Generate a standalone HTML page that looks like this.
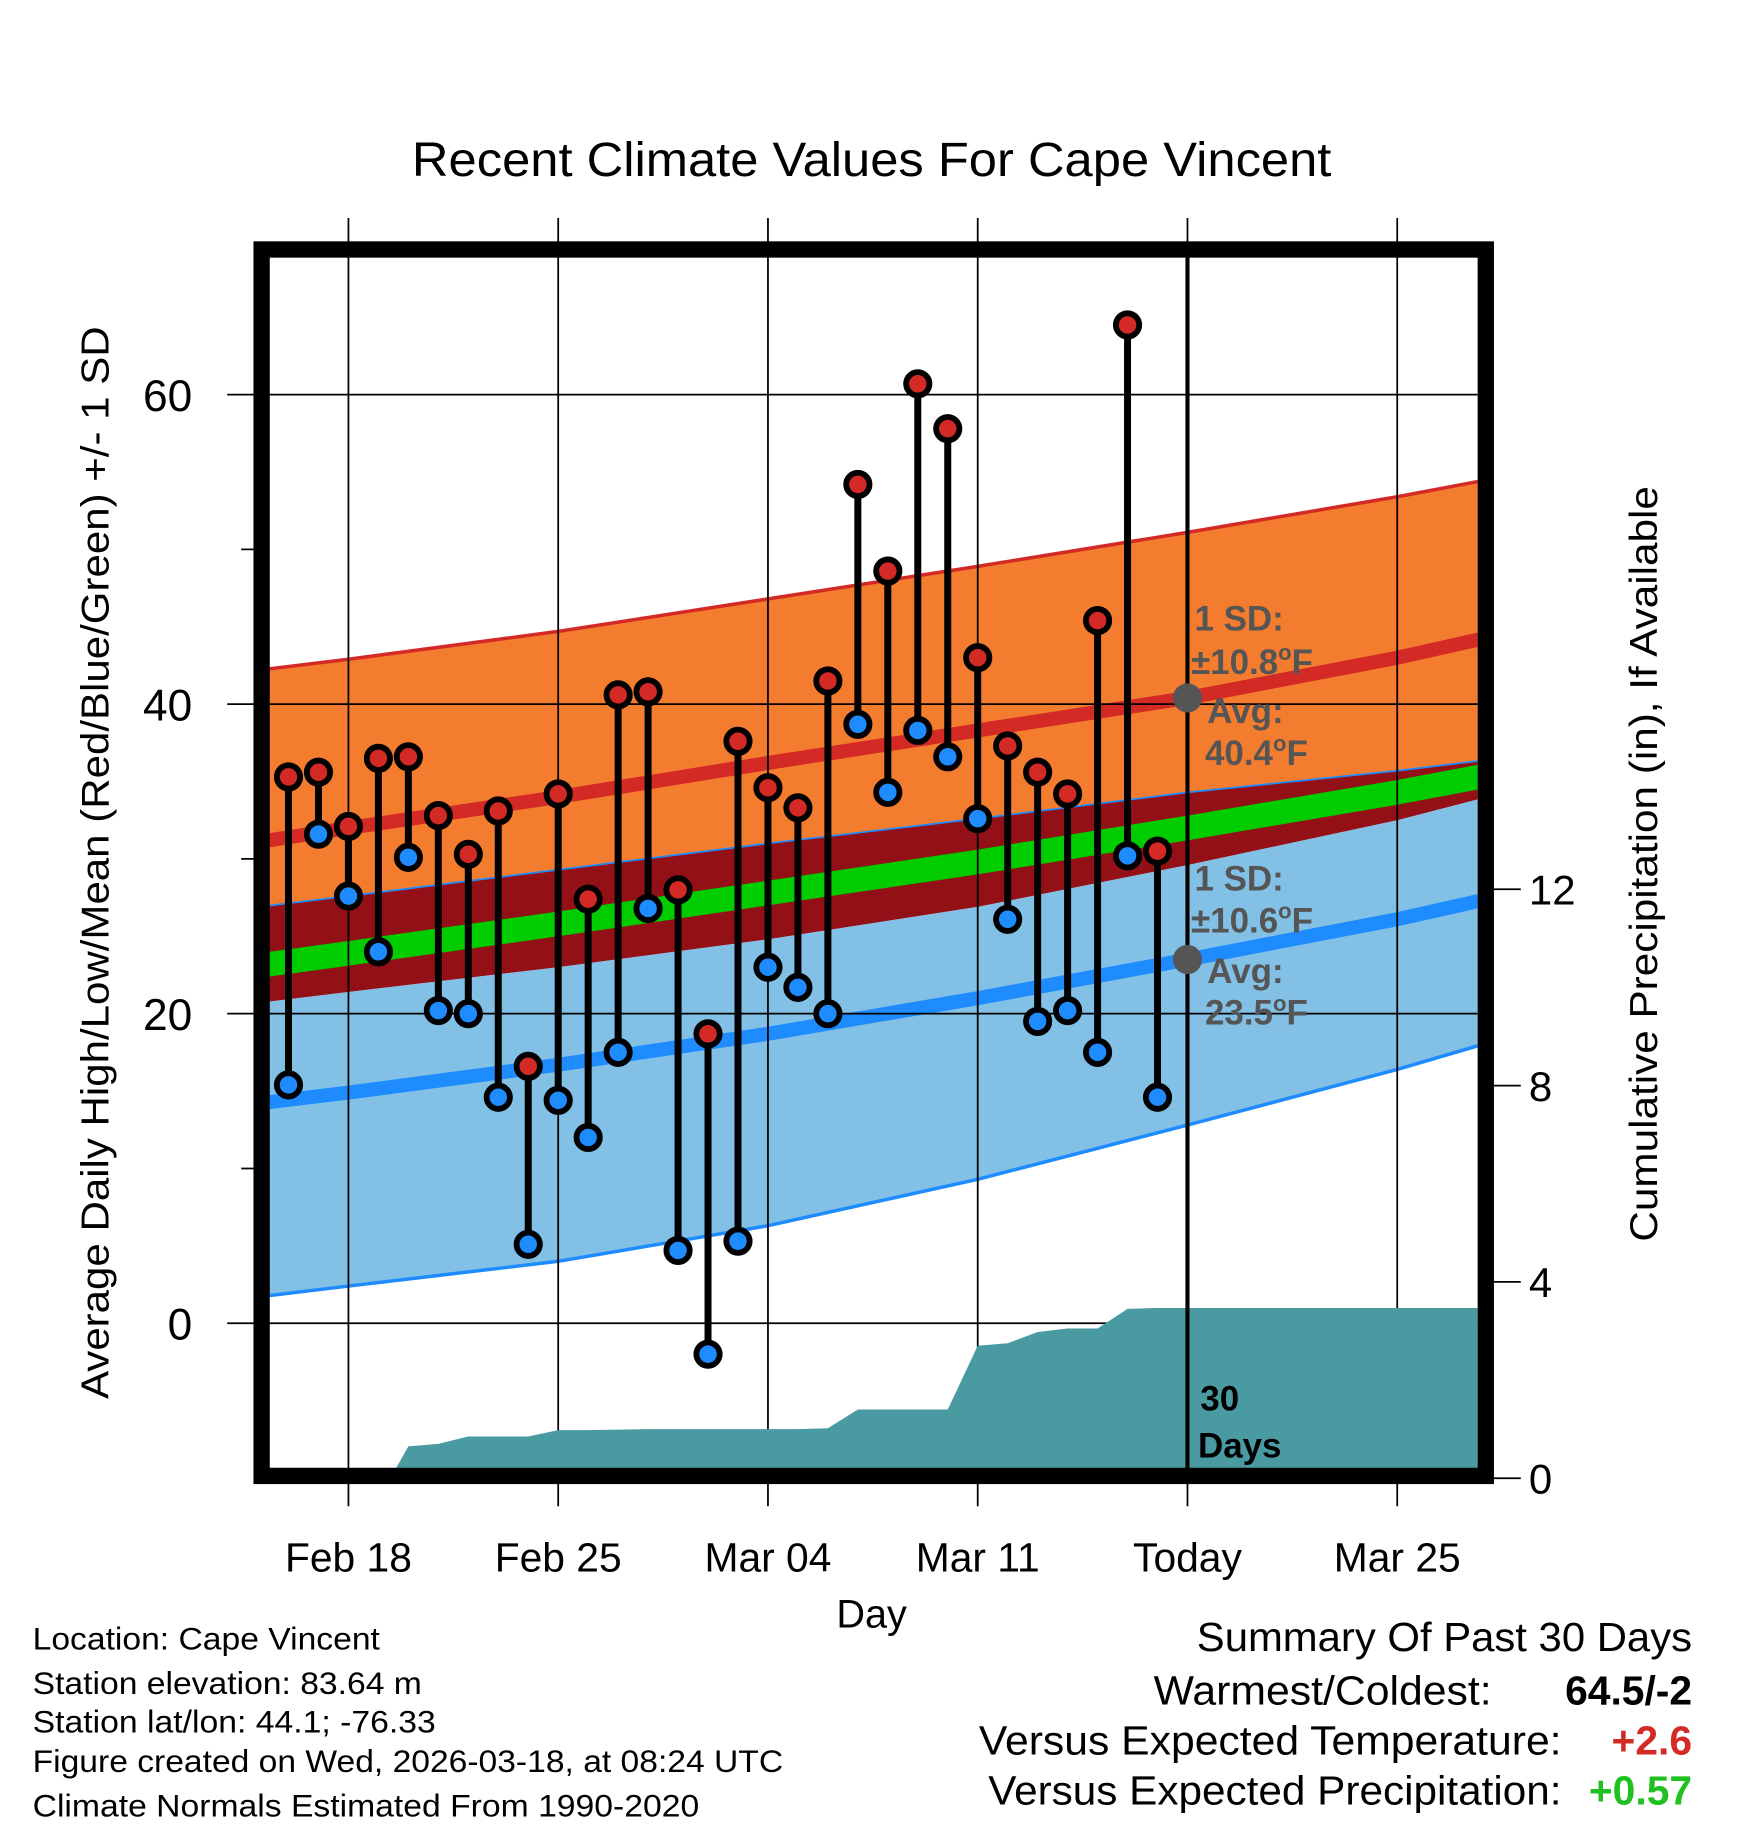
<!DOCTYPE html>
<html><head><meta charset="utf-8"><style>
html,body{margin:0;padding:0;background:#fff;}
svg{display:block;font-family:"Liberation Sans",Arial,sans-serif;}
</style></head><body>
<svg id="chart" width="1748" height="1828" viewBox="0 0 1500 1568" preserveAspectRatio="none" xmlns="http://www.w3.org/2000/svg">
<defs><clipPath id="plotclip"><rect x="231" y="220" width="1037" height="1040"/></clipPath></defs>
<text x="748" y="151" font-size="41" text-anchor="middle" textLength="789" lengthAdjust="spacingAndGlyphs">Recent Climate Values For Cape Vincent</text>
<g id="bands" clip-path="url(#plotclip)"></g>
<g id="grid"></g>
<g id="precip" clip-path="url(#plotclip)"></g>
<g id="marks"></g>
<rect x="224.5" y="214" width="1050.5" height="1052" fill="none" stroke="#000" stroke-width="14"/>
<g id="axes"></g>
<g font-weight="bold" fill="#555" font-size="30">
<text x="1025" y="541">1 SD:</text>
<text x="1022" y="578">±10.8<tspan font-size="19" dy="-12">o</tspan><tspan dy="12">F</tspan></text>
<text x="1036" y="620">Avg:</text>
<text x="1034" y="656">40.4<tspan font-size="19" dy="-12">o</tspan><tspan dy="12">F</tspan></text>
<text x="1025" y="764">1 SD:</text>
<text x="1022" y="800">±10.6<tspan font-size="19" dy="-12">o</tspan><tspan dy="12">F</tspan></text>
<text x="1036" y="843">Avg:</text>
<text x="1034" y="879">23.5<tspan font-size="19" dy="-12">o</tspan><tspan dy="12">F</tspan></text>
<text x="1030" y="1210" fill="#000">30</text>
<text x="1028" y="1250" fill="#000">Days</text>
</g>
<text x="748" y="1396" font-size="34" text-anchor="middle">Day</text>
<text transform="translate(93,740) rotate(-90)" font-size="33" text-anchor="middle" textLength="920" lengthAdjust="spacingAndGlyphs">Average Daily High/Low/Mean (Red/Blue/Green) +/- 1 SD</text>
<text transform="translate(1422,741) rotate(-90)" font-size="33" text-anchor="middle" textLength="648" lengthAdjust="spacingAndGlyphs">Cumulative Precipitation (in), If Available</text>
<g font-size="27" lengthAdjust="spacingAndGlyphs">
<text x="28" y="1415" textLength="298" lengthAdjust="spacingAndGlyphs">Location: Cape Vincent</text>
<text x="28" y="1453" textLength="334" lengthAdjust="spacingAndGlyphs">Station elevation: 83.64 m</text>
<text x="28" y="1486" textLength="346" lengthAdjust="spacingAndGlyphs">Station lat/lon: 44.1; -76.33</text>
<text x="28" y="1520" textLength="644" lengthAdjust="spacingAndGlyphs">Figure created on Wed, 2026-03-18, at 08:24 UTC</text>
<text x="28" y="1558" textLength="572" lengthAdjust="spacingAndGlyphs">Climate Normals Estimated From 1990-2020</text>
</g>
<g font-size="35" text-anchor="end">
<text x="1452" y="1416" textLength="425" lengthAdjust="spacingAndGlyphs">Summary Of Past 30 Days</text>
<text x="1280" y="1462" textLength="290" lengthAdjust="spacingAndGlyphs">Warmest/Coldest:</text>
<text x="1452" y="1462" font-weight="bold">64.5/-2</text>
<text x="1340" y="1505" textLength="500" lengthAdjust="spacingAndGlyphs">Versus Expected Temperature:</text>
<text x="1452" y="1505" font-weight="bold" fill="#d42a26">+2.6</text>
<text x="1340" y="1548" textLength="492" lengthAdjust="spacingAndGlyphs">Versus Expected Precipitation:</text>
<text x="1452" y="1548" font-weight="bold" fill="#1fc01f">+0.57</text>
</g>
</svg>
<script>
// Data
const normDays = [-3, 0, 7, 14, 21, 28, 35, 38]; // days relative to Feb 18
const highUpper = [42.2, 42.9, 44.7, 46.8, 48.9, 51.1, 53.4, 54.5];
const highMean = [31.1, 32.0, 34.0, 36.2, 38.3, 40.4, 43.0, 44.3];
const bandTop = [26.9, 27.6, 29.3, 31.0, 32.6, 34.3, 35.7, 36.4];
const meanLine = [23.1, 23.9, 25.8, 27.8, 29.8, 32.0, 34.3, 35.4];
const bandBottom = [20.7, 21.4, 23.0, 24.8, 26.9, 29.6, 32.5, 34.0];
const lowMean = [14.2, 14.9, 16.7, 18.7, 21.0, 23.5, 26.1, 27.4];
const lowLower = [1.7, 2.4, 4.0, 6.3, 9.3, 12.8, 16.4, 18.1];
const obsDays = [-2,-1,0,1,2,3,4,5,6,7,8,9,10,11,12,13,14,15,16,17,18,19,20,21,22,23,24,25,26,27];
const highs = [35.3,35.6,32.1,36.5,36.6,32.8,30.3,33.1,16.6,34.2,27.4,40.6,40.8,28.0,18.7,37.6,34.6,33.3,41.5,54.2,48.6,60.7,57.8,43.0,37.3,35.6,34.2,45.4,64.5,30.5];
const lows = [15.4,31.6,27.6,24.0,30.1,20.2,20.0,14.6,5.1,14.4,12.0,17.5,26.8,4.7,-2.0,5.3,23.0,21.7,20.0,38.7,34.3,38.3,36.6,32.6,26.1,19.5,20.2,17.5,30.2,14.6];
const precipDays = [-3,-2,-1,0,1,1.4,2,3,4,5,6,7,8,9,10,11,12,13,14,15,16,17,18,19,20,21,22,23,24,25,26,27,28,38];
const precipCum = [0,0,0,0,0,0,0.65,0.7,0.85,0.85,0.85,0.98,0.98,0.99,1.0,1.0,1.0,1.0,1.0,1.0,1.02,1.4,1.4,1.4,1.4,2.7,2.75,2.98,3.05,3.05,3.45,3.47,3.47,3.47];
const xTickDays = [0,7,14,21,28,35];
const xTickLabels = ["Feb 18","Feb 25","Mar 04","Mar 11","Today","Mar 25"];
const yTicks = [0,20,40,60];
const yMinor = [10,30,50];
const pTicks = [0,4,8,12];

const NS="http://www.w3.org/2000/svg";
const X = d => 299 + d*(180/7);
const Y = v => 1135 - v*(265.5/20);
const P = v => 1268 - v*42.1;
function mk(tag, attrs, parent){const e=document.createElementNS(NS,tag);for(const k in attrs)e.setAttribute(k,attrs[k]);parent.appendChild(e);return e;}
const bands=document.getElementById('bands'), grid=document.getElementById('grid'), precip=document.getElementById('precip'), marks=document.getElementById('marks'), axes=document.getElementById('axes');

function pts(arr, off){return normDays.map((d,i)=>X(d)+','+Y(arr[i]+(off||0)));}
function band(top,bot,fill,name){
  const p=pts(top).concat(pts(bot).reverse());
  const e=mk('polygon',{points:p.join(' '),fill:fill},bands);
  
  
}
band(highUpper,bandTop,'#f47c2e','high-sd-band');
band(bandTop,bandBottom,'#931017','overlap-band');
band(bandBottom,lowLower,'#82c0e6','low-sd-band');
function line(arr,color,w,name,off){
  const e=mk('polyline',{points:pts(arr,off).join(' '),fill:'none',stroke:color,'stroke-width':w},bands);
  
  
}
band(meanLine.map(v=>v+0.8),meanLine.map(v=>v-0.8),'#00cc00','mean-band');
line(highUpper,'#d42a26',3,'high-upper-line');
line(bandTop,'#1e8cff',1.5,'band-top-line');
line(lowLower,'#1e8cff',3,'low-lower-line');
line(highMean,'#d42a26',12,'high-mean-line');
line(lowMean,'#1e8cff',12,'low-mean-line');

xTickDays.forEach(d=>{
  const e=mk('line',{x1:X(d),x2:X(d),y1:187,y2:1292,stroke:'#000','stroke-width':1.5},grid);
  
  
});
yTicks.forEach(v=>{
  const e=mk('line',{x1:195,x2:1268,y1:Y(v),y2:Y(v),stroke:'#000','stroke-width':1.5},grid);
  
  
});
yMinor.forEach(v=>{
  const e=mk('line',{x1:207,x2:224,y1:Y(v),y2:Y(v),stroke:'#000','stroke-width':1.5},grid);
  
  
});

{
  const p=[X(precipDays[0])+','+P(0)].concat(precipDays.map((d,i)=>X(d)+','+P(precipCum[i]))).concat([X(precipDays[precipDays.length-1])+','+P(0)]);
  const e=mk('polygon',{points:p.join(' '),fill:'#4a9aa2'},precip);
  
  
}
{
  const e=mk('line',{x1:X(28),x2:X(28),y1:220,y2:1262,stroke:'#000','stroke-width':3.5},marks);
  
  
}
obsDays.forEach((d,i)=>{
  const s=mk('line',{x1:X(d),x2:X(d),y1:Y(highs[i]),y2:Y(lows[i]),stroke:'#000','stroke-width':6},marks);
  
  
});
obsDays.forEach((d,i)=>{
  const h=mk('circle',{cx:X(d),cy:Y(highs[i]),r:10,fill:'#d42a26',stroke:'#000','stroke-width':5},marks);
  
  
  const l=mk('circle',{cx:X(d),cy:Y(lows[i]),r:10,fill:'#1e8cff',stroke:'#000','stroke-width':5},marks);
  
  
});
[[40.4],[23.5]].forEach(v=>{
  const c=mk('circle',{cx:X(28),cy:Y(v[0]),r:12.5,fill:'#555'},marks);
  
  
});

yTicks.forEach(v=>{
  const t=mk('text',{x:165,y:Y(v)+14,'font-size':38,'text-anchor':'end'},axes);
  t.textContent=v;
  
  
});
xTickDays.forEach((d,i)=>{
  const t=mk('text',{x:X(d),y:1348,'font-size':35,'text-anchor':'middle'},axes);
  t.textContent=xTickLabels[i];
  
  
});
pTicks.forEach(v=>{
  const l=mk('line',{x1:1282,x2:1305,y1:P(v),y2:P(v),stroke:'#000','stroke-width':1.5},axes);
  
  
  const t=mk('text',{x:1312,y:P(v)+13,'font-size':36},axes);
  t.textContent=v;
  
  
});
</script>
</body></html>
